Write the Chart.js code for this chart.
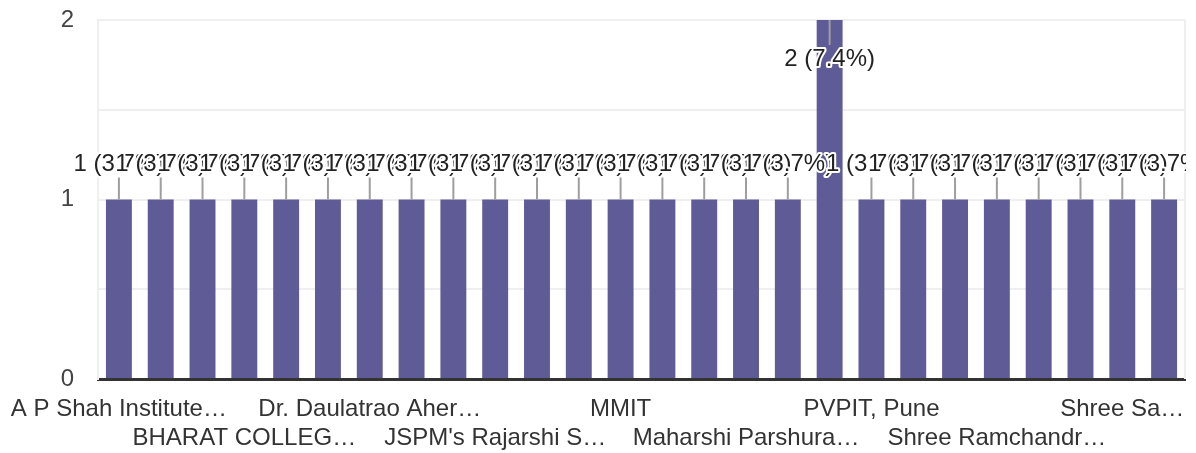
<!DOCTYPE html>
<html>
<head>
<meta charset="utf-8">
<script src="https://cdn.jsdelivr.net/npm/chart.js@4"></script>
<style>
  html, body { margin: 0; padding: 0; background: #fff; }
  #wrap { width: 1196px; height: 453px; }
</style>
</head>
<body>
<div id="wrap"><canvas id="chart-responses"></canvas></div>
<script>
// only every third name is readable in the picture, the rest stay blank
const categories = [
  "A P Shah Institute…", "", "",
  "BHARAT COLLEG…", "", "",
  "Dr. Daulatrao Aher…", "", "",
  "JSPM's Rajarshi S…", "", "",
  "MMIT", "", "",
  "Maharshi Parshura…", "", "",
  "PVPIT, Pune", "", "",
  "Shree Ramchandr…", "", "",
  "Shree Sa…", "",
];
const responses = [1, 1, 1, 1, 1, 1, 1, 1, 1, 1, 1, 1, 1, 1, 1, 1, 1, 2, 1, 1, 1, 1, 1, 1, 1, 1];
const yTicks = [0, 1, 2];

const total = responses.reduce((a, b) => a + b, 0);
const fontFamily = "'Liberation Sans', Arial, sans-serif";

const barLabels = {
  id: "barLabels",
  afterDatasetsDraw(chart) {
    const ctx = chart.ctx;
    const area = chart.chartArea;
    const bars = chart.getDatasetMeta(0).data;
    ctx.save();
    // light frame line on the right side of the plot
    ctx.strokeStyle = "#efefef";
    ctx.lineWidth = 2;
    ctx.beginPath();
    ctx.moveTo(area.right, area.top);
    ctx.lineTo(area.right, area.bottom);
    ctx.stroke();

    // labels get cut at the plot edge
    ctx.beginPath();
    ctx.rect(0, 0, area.right + 1, chart.height);
    ctx.clip();

    ctx.font = "24px " + fontFamily;
    ctx.textAlign = "center";
    ctx.textBaseline = "middle";
    ctx.lineJoin = "round";
    bars.forEach((bar, i) => {
      const value = responses[i];
      const pct = ((value / total) * 100).toFixed(1);
      const text = value + " (" + pct + "%)";
      const top = bar.y;
      let textY, lineFrom, lineTo;
      if (top - 48 < area.top) {
        textY = top + 39;
        lineFrom = top;
        lineTo = top + 25;
      } else {
        textY = top - 35;
        lineFrom = top - 22;
        lineTo = top;
      }
      ctx.strokeStyle = "#9e9e9e";
      ctx.lineWidth = 2;
      ctx.beginPath();
      ctx.moveTo(bar.x, lineFrom);
      ctx.lineTo(bar.x, lineTo);
      ctx.stroke();

      ctx.strokeStyle = "#ffffff";
      ctx.lineWidth = 4;
      ctx.strokeText(text, bar.x, textY);
      ctx.fillStyle = "#222222";
      ctx.fillText(text, bar.x, textY);
    });
    ctx.restore();
  },
};

const chartResponses = new Chart(document.querySelector("#chart-responses"), {
  type: "bar",
  data: {
    labels: categories,
    datasets: [
      {
        label: "Responses",
        data: responses,
        backgroundColor: "#5f5b97",
        borderWidth: 0,
        barPercentage: 0.62,
        categoryPercentage: 1,
      },
    ],
  },
  options: {
    responsive: true,
    maintainAspectRatio: false,
    animation: false,
    layout: { padding: { top: 20, right: 11, left: 0, bottom: 0 } },
    plugins: {
      legend: { display: false },
      tooltip: { enabled: false },
    },
    scales: {
      x: {
        grid: { display: false },
        border: { display: true, color: "#333333", width: 3 },
        afterFit: (scale) => {
          scale.height = 74;
          scale.paddingLeft = 0;
          scale.paddingRight = 0;
        },
        ticks: {
          autoSkip: false,
          maxRotation: 0,
          minRotation: 0,
          padding: 8,
          color: "#333333",
          font: { family: fontFamily, size: 24, lineHeight: 1.2 },
          callback: (value, index) => {
            if (index % 3 !== 0) return "";
            const label = categories[index];
            return (index / 3) % 2 === 0 ? label : ["", label];
          },
        },
      },
      y: {
        min: 0,
        max: 2,
        grid: { color: "#efefef", lineWidth: 2, drawTicks: false },
        border: { display: true, color: "#efefef", width: 2 },
        afterFit: (scale) => {
          scale.width = 98;
          scale.paddingTop = 0;
          scale.paddingBottom = 0;
        },
        ticks: {
          stepSize: 0.5,
          padding: 24,
          color: "#444444",
          font: { family: fontFamily, size: 24 },
          callback: (value) => (yTicks.includes(value) ? value : ""),
        },
      },
    },
  },
  plugins: [barLabels],
});
</script>
</body>
</html>
